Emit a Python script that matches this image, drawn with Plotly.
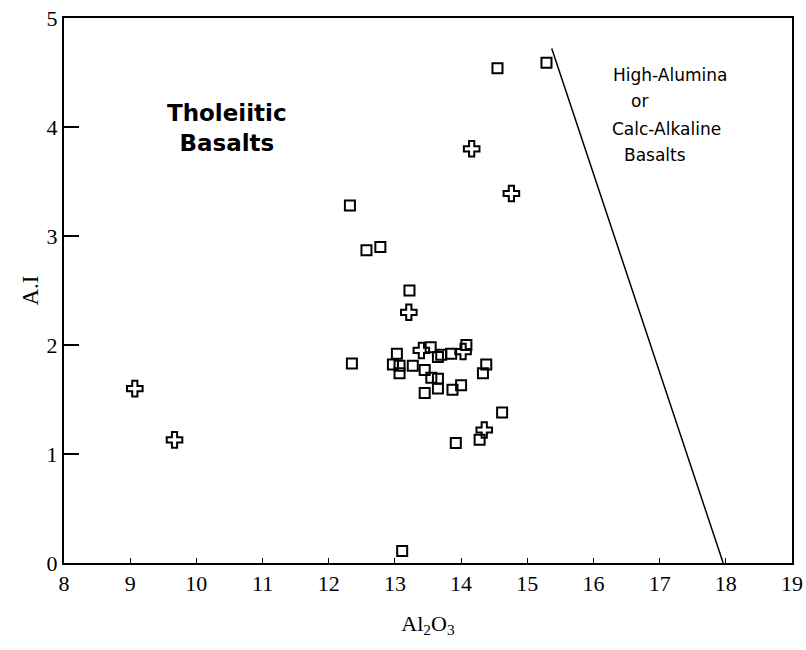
import plotly.graph_objects as go

# Data
square_x = [12.32, 12.57, 12.78, 13.22, 14.55, 15.29, 12.35, 13.11, 13.03, 13.54,
            13.65, 12.97, 13.07, 13.07, 13.27, 13.45, 13.55, 13.65, 13.65, 13.45,
            13.85, 14.08, 14.38, 14.33, 13.87, 14.00, 14.62, 14.28, 13.92, 13.70]
square_y = [3.28, 2.87, 2.90, 2.50, 4.54, 4.59, 1.83, 0.11, 1.92, 1.98,
            1.89, 1.82, 1.81, 1.74, 1.81, 1.77, 1.70, 1.69, 1.60, 1.56,
            1.92, 2.00, 1.82, 1.74, 1.59, 1.63, 1.38, 1.13, 1.10, 1.91]

cross_x = [9.07, 9.67, 13.21, 14.16, 14.76, 13.40, 14.03, 14.35]
cross_y = [1.60, 1.13, 2.30, 3.80, 3.39, 1.95, 1.94, 1.22]

divider_x = [15.37, 17.96]
divider_y = [4.72, 0.0]

x_ticks = list(range(8, 20))
y_ticks = list(range(0, 6))

fig = go.Figure()

fig.add_trace(go.Scatter(
    x=divider_x, y=divider_y, mode="lines",
    line=dict(color="black", width=1.5), showlegend=False, hoverinfo="skip"))

fig.add_trace(go.Scatter(
    x=square_x, y=square_y, mode="markers",
    marker=dict(symbol="square-open", size=10, color="black", line=dict(width=2)),
    showlegend=False))

fig.add_trace(go.Scatter(
    x=cross_x, y=cross_y, mode="markers",
    marker=dict(symbol="cross-open", size=13, color="black", line=dict(width=2)),
    showlegend=False))

sans = "DejaVu Sans, Arial, sans-serif"
serif = "Liberation Serif, Times New Roman, serif"

annotations = [
    dict(x=10.47, y=3.99, text="<b>Tholeiitic<br>Basalts</b>", font=dict(family=sans, size=23)),
    dict(x=17.16, y=4.48, text="High-Alumina", font=dict(family=sans, size=17)),
    dict(x=16.69, y=4.24, text="or", font=dict(family=sans, size=17)),
    dict(x=17.11, y=3.98, text="Calc-Alkaline", font=dict(family=sans, size=17)),
    dict(x=16.93, y=3.74, text="Basalts", font=dict(family=sans, size=17)),
]
for a in annotations:
    a.update(xref="x", yref="y", showarrow=False, xanchor="center", yanchor="middle")
    a["font"]["color"] = "black"

fig.update_layout(
    template="none",
    width=806, height=650,
    margin=dict(l=64, r=14, t=18, b=87),
    paper_bgcolor="white", plot_bgcolor="white",
    annotations=annotations,
    font=dict(family=serif, color="black"),
)

fig.update_xaxes(
    automargin=False,
    range=[8, 19], tickvals=x_ticks, ticktext=[str(v) for v in x_ticks],
    ticks="inside", ticklen=5, tickwidth=1, tickcolor="black",
    showline=True, linecolor="black", linewidth=2, mirror=True,
    showgrid=False, zeroline=False,
    tickfont=dict(family=serif, size=22, color="black"),
    title=dict(text="Al<sub>2</sub>O<sub>3</sub>", font=dict(family=serif, size=22, color="black"), standoff=20),
)
fig.update_yaxes(
    automargin=False,
    range=[0, 5], tickvals=y_ticks, ticktext=[str(v) for v in y_ticks],
    ticks="inside", ticklen=15, tickwidth=1.5, tickcolor="black",
    showline=True, linecolor="black", linewidth=2, mirror=True,
    showgrid=False, zeroline=False,
    tickfont=dict(family=serif, size=22, color="black"),
    title=dict(text="A.I", font=dict(family=serif, size=23, color="black"), standoff=2),
)

fig.write_html("out.html")
